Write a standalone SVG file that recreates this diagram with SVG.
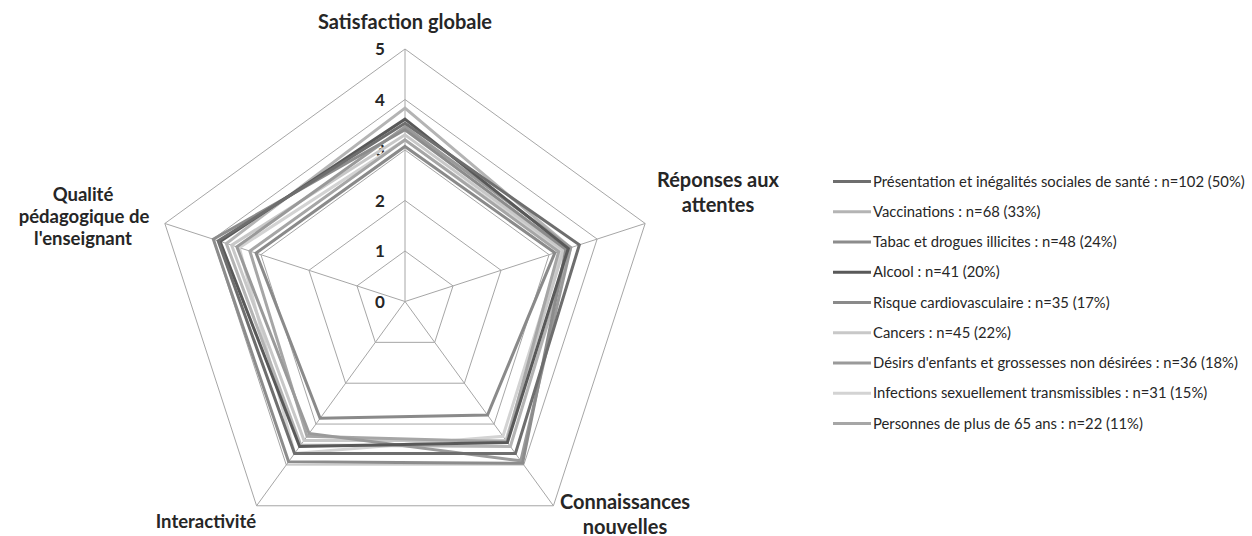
<svg xmlns="http://www.w3.org/2000/svg" width="1252" height="536" viewBox="0 0 1252 536">
<style>
.grid{fill:none;stroke:#a6a6a6;stroke-width:1}
.s{fill:none;stroke-width:3;stroke-linejoin:miter}
.ax{font-family:Lato,"Liberation Sans",sans-serif;font-weight:bold;font-size:20px;fill:#262626;text-anchor:middle}
.ax2{font-size:18.5px}
.tick{font-family:Lato,"Liberation Sans",sans-serif;font-weight:bold;font-size:17px;fill:#262626;text-anchor:middle}
.lg{font-family:Lato,"Liberation Sans",sans-serif;font-size:14.8px;fill:#262626}
.c1{stroke:#6e6e6e}.c2{stroke:#b4b4b4}.c3{stroke:#8c8c8c}.c4{stroke:#595959}.c5{stroke:#8a8a8a}.c6{stroke:#c8c8c8}.c7{stroke:#9a9a9a}.c8{stroke:#d3d3d3}.c9{stroke:#a6a6a6}
</style>
<rect width="1252" height="536" fill="#ffffff"/>
<g id="grid">
<polygon class="grid" points="405,49 645.15,223.48 553.42,505.77 256.58,505.77 164.85,223.48"/>
<polygon class="grid" points="405,99.5 597.12,239.08 523.74,464.92 286.26,464.92 212.88,239.08"/>
<polygon class="grid" points="405,150 549.09,254.69 494.05,424.06 315.95,424.06 260.91,254.69"/>
<polygon class="grid" points="405,200.5 501.06,270.29 464.37,383.21 345.63,383.21 308.94,270.29"/>
<polygon class="grid" points="405,251 453.03,285.9 434.68,342.35 375.32,342.35 356.97,285.9"/>
<path class="grid" d="M405,301.5L405,49M405,301.5L645.15,223.48M405,301.5L553.42,505.77M405,301.5L256.58,505.77M405,301.5L164.85,223.48"/>
</g>
<g id="ticks">
<text class="tick" x="380" y="55">5</text>
<text class="tick" x="380" y="105.5">4</text>
<text class="tick" x="380" y="156">3</text>
<text class="tick" x="380" y="206.5">2</text>
<text class="tick" x="380" y="257">1</text>
<text class="tick" x="380" y="308">0</text>
</g>
<g id="series">
<polygon class="s c8" points="405,139.9 561.1,250.78 502.96,436.32 294.58,453.48 239.29,247.66"/>
<polygon class="s c6" points="405,134.85 563.5,250.01 505.93,440.41 304.07,440.41 231.61,245.17"/>
<polygon class="s c9" points="405,139.9 558.7,251.57 506.82,441.63 307.04,436.32 249.86,251.1"/>
<polygon class="s c2" points="405,108.08 570.71,247.66 510.38,446.54 300.81,444.9 226.33,243.45"/>
<polygon class="s c7" points="405,126.77 570.71,247.66 520.77,460.83 309.12,433.46 236.89,246.88"/>
<polygon class="s c5" points="405,146.46 554.86,252.81 487.52,415.08 320.1,418.34 256.11,253.13"/>
<polygon class="s c3" points="405,129.8 565.91,249.22 522.55,463.28 288.64,461.65 213.35,239.24"/>
<polygon class="s c4" points="405,119.19 568.3,248.44 507.41,442.45 299.62,446.54 220.08,241.42"/>
<polygon class="s c1" points="405,123.23 579.35,244.85 515.42,453.48 294.58,453.48 218.16,240.8"/>
</g>
<g id="axis-labels">
<text class="ax" x="405" y="29">Satisfaction globale</text>
<text class="ax" x="718" y="187">Réponses aux</text>
<text class="ax" x="718" y="212">attentes</text>
<text class="ax" x="625" y="509">Connaissances</text>
<text class="ax" x="625" y="534">nouvelles</text>
<text class="ax ax2" x="206" y="528">Interactivité</text>
<text class="ax ax2" x="83" y="201">Qualité</text>
<text class="ax ax2" x="84" y="223">pédagogique de</text>
<text class="ax ax2" x="83" y="245">l'enseignant</text>
</g>
<g id="legend">
<g id="lg1"><line class="s c1" x1="833" y1="181.5" x2="871" y2="181.5"/><text class="lg" x="873" y="186.5">Présentation et inégalités sociales de santé : n=102 (50%)</text></g>
<g id="lg2"><line class="s c2" x1="833" y1="211.75" x2="871" y2="211.75"/><text class="lg" x="873" y="216.75">Vaccinations : n=68 (33%)</text></g>
<g id="lg3"><line class="s c3" x1="833" y1="242" x2="871" y2="242"/><text class="lg" x="873" y="247">Tabac et drogues illicites : n=48 (24%)</text></g>
<g id="lg4"><line class="s c4" x1="833" y1="272.25" x2="871" y2="272.25"/><text class="lg" x="873" y="277.25">Alcool : n=41 (20%)</text></g>
<g id="lg5"><line class="s c5" x1="833" y1="302.5" x2="871" y2="302.5"/><text class="lg" x="873" y="307.5">Risque cardiovasculaire : n=35 (17%)</text></g>
<g id="lg6"><line class="s c6" x1="833" y1="332.75" x2="871" y2="332.75"/><text class="lg" x="873" y="337.75">Cancers : n=45 (22%)</text></g>
<g id="lg7"><line class="s c7" x1="833" y1="363" x2="871" y2="363"/><text class="lg" x="873" y="368">Désirs d'enfants et grossesses non désirées : n=36 (18%)</text></g>
<g id="lg8"><line class="s c8" x1="833" y1="393.25" x2="871" y2="393.25"/><text class="lg" x="873" y="398.25">Infections sexuellement transmissibles : n=31 (15%)</text></g>
<g id="lg9"><line class="s c9" x1="833" y1="423.5" x2="871" y2="423.5"/><text class="lg" x="873" y="428.5">Personnes de plus de 65 ans : n=22 (11%)</text></g>
</g>
</svg>
